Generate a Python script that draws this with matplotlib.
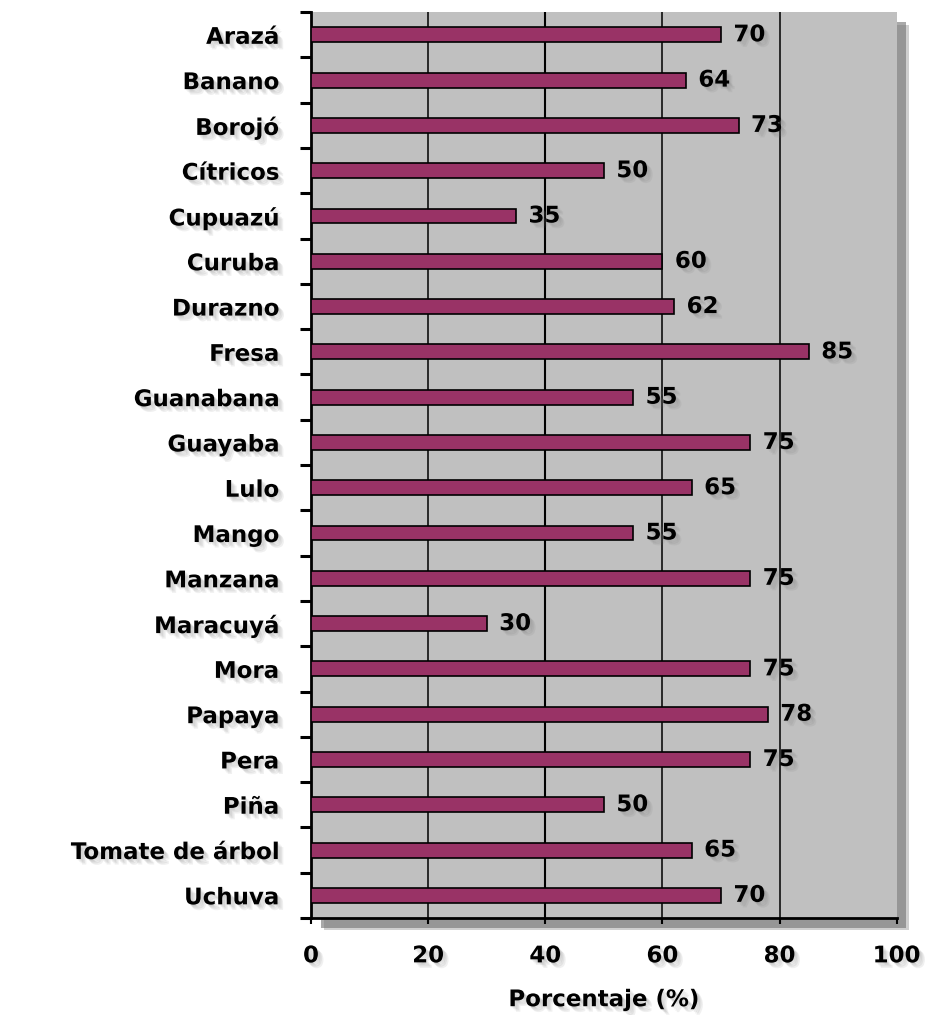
import matplotlib
matplotlib.use("Agg")
import matplotlib.pyplot as plt
import matplotlib.patheffects as pe
import numpy as np

categories = ["Arazá", "Banano", "Borojó", "Cítricos", "Cupuazú", "Curuba", "Durazno",
              "Fresa", "Guanabana", "Guayaba", "Lulo", "Mango", "Manzana", "Maracuyá",
              "Mora", "Papaya", "Pera", "Piña", "Tomate de árbol", "Uchuva"]
values = [70, 64, 73, 50, 35, 60, 62, 85, 55, 75, 65, 55, 75, 30, 75, 78, 75, 50, 65, 70]
xticks = [0, 20, 40, 60, 80, 100]
xlabel = "Porcentaje (%)"

plt.rcParams['font.family'] = ['DejaVu Sans']

fig = plt.figure(figsize=(9.34, 10.15), dpi=100)
ax = fig.add_axes([0.333, 0.0956, 0.627, 0.8924])

shadow = [pe.SimplePatchShadow(offset=(o, -o), shadow_rgbFace='#707070', alpha=0.10)
          for o in (1.0, 2.0, 3.0, 4.0)] + [pe.Normal()]

ax.set_facecolor('#C0C0C0')
ax.patch.set_path_effects([
    pe.SimplePatchShadow(offset=(9, -9), shadow_rgbFace='#A0A0A0', alpha=0.5),
    pe.SimplePatchShadow(offset=(7, -7), shadow_rgbFace='#707070', alpha=0.6),
    pe.Normal()])

y = np.arange(len(categories))
ax.barh(y, values, height=0.33, color='#993366', edgecolor='black', linewidth=1.2, zorder=3)

fs = 16.5
for yi, v in zip(y, values):
    ax.annotate(f"{v}", xy=(v, yi), xytext=(9, 0), textcoords='offset points',
                ha='left', va='center', fontsize=fs, fontweight='bold', zorder=4,
                path_effects=shadow)

ax.set_xlim(0, 100)
ax.set_ylim(len(categories) - 0.5, -0.5)

for g in [20, 40, 60, 80]:
    ax.axvline(g, color='black', linewidth=1.5 if g == 40 else 1.1, zorder=2)

ax.set_xticks(xticks)
ax.set_xticklabels([str(t) for t in xticks], fontsize=fs, fontweight='bold')
for lbl in ax.get_xticklabels():
    lbl.set_path_effects(shadow)
ax.tick_params(axis='x', length=4, width=1.5, pad=15, direction='out')

ax.set_yticks(y)
ax.set_yticklabels(categories, fontsize=fs, fontweight='bold')
for lbl in ax.get_yticklabels():
    lbl.set_path_effects(shadow)
ax.tick_params(axis='y', which='major', length=0, pad=23)
ax.set_yticks(np.arange(-0.5, len(categories), 1.0), minor=True)
ax.tick_params(axis='y', which='minor', length=8, width=2.2, direction='out')

for s in ['top', 'right']:
    ax.spines[s].set_visible(False)
ax.spines['left'].set_linewidth(2)
ax.spines['bottom'].set_linewidth(2)

ax.set_xlabel(xlabel, fontsize=16.5, fontweight='bold', labelpad=15,
              path_effects=shadow)

fig.savefig("out.png", dpi=100, facecolor='white')
